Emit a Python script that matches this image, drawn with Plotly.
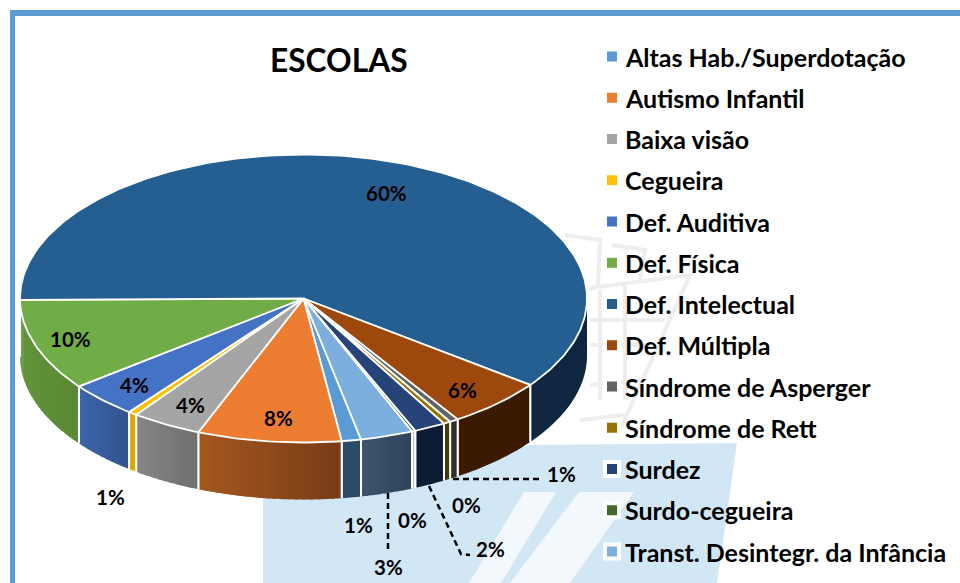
import numpy as np
import plotly.graph_objects as go

# ---- data (share of the circle, %) ----
categories = ["Altas Hab./Superdotação", "Autismo Infantil", "Baixa visão", "Cegueira",
              "Def. Auditiva", "Def. Física", "Def. Intelectual", "Def. Múltipla",
              "Síndrome de Asperger", "Síndrome de Rett", "Surdez", "Surdo-cegueira",
              "Transt. Desintegr. da Infância"]
values = [1.1, 8.2, 4.0, 0.5, 4.0, 10.3, 60.4, 5.6, 0.5, 0.4, 1.8, 0.2, 3.0]
printed_labels = ["1%", "8%", "4%", "1%", "4%", "10%", "60%", "6%", "1%", "0%", "2%", "0%", "3%"]

# ---- styles ----
top_colors = ["#5b9bd5", "#ed7d31", "#a5a5a5", "#ffc000", "#4472c4", "#70ad47", "#255e91",
              "#9e480e", "#636363", "#997300", "#264478", "#43682b", "#7cafdd"]
wall_right = ["#2a4a68", "#793c17", "#707070", "#dca800", "#33558f", "#5b8a36", "#0e2640",
              "#3c1a02", "#2e2e2e", "#4a3800", "#0d1c35", "#c8c8c8", "#2f445a"]
wall_left = ["#2a4a68", "#a55820", "#878787", "#dca800", "#3e66ad", "#65983c", "#0e2640",
             "#3c1a02", "#2e2e2e", "#4a3800", "#0d1c35", "#c8c8c8", "#3d5570"]
label_xy = [(358, 525), (278, 418), (190, 405), (110, 497), (134, 385), (70, 339), (386, 193),
            (462, 390), (561, 474), (466, 505), (490, 549), (412, 520), (388, 567)]
CX, CY, RX, RY, DEPTH, START = 303.5, 298.5, 283.5, 144.0, 57.0, 78.3
FONT = "Lato"


def hex2rgb(h):
    return np.array([int(h[i:i + 2], 16) for i in (1, 3, 5)], float)


def ell(deg, dy=0.0):
    a = np.radians(deg)
    return CX + RX * np.cos(a), CY + RY * np.sin(a) + dy


fig = go.Figure()
shares = np.array(values) / sum(values) * 360.0
ends = START + np.cumsum(shares)
starts = ends - shares

# side walls (only the front half of the cylinder is visible)
for s, e, cr, cl in zip(starts, ends, wall_right, wall_left):
    for lo, hi in ((s, e), (s - 360, e - 360)):
        a, b = max(lo, 0.0), min(hi, 180.0)
        if b <= a:
            continue
        n = 1 if cr == cl else max(1, int(np.ceil((b - a) / 1.5)))
        edges = np.linspace(a, b, n + 1)
        for i in range(n):
            t = ((edges[i] + edges[i + 1]) / 2 - lo) / (hi - lo)
            c = (1 - t) * hex2rgb(cr) + t * hex2rgb(cl)
            col = "rgb(%d,%d,%d)" % tuple(c)
            # strips overlap the next one so no seam shows
            arc = np.linspace(edges[i], min(edges[i + 1] + 0.6, b), max(3, int(edges[i + 1] - edges[i]) + 3))
            x1, y1 = ell(arc)
            x2, y2 = ell(arc[::-1], DEPTH)
            fig.add_trace(go.Scatter(x=np.r_[x1, x2], y=np.r_[y1, y2], fill="toself",
                                     fillcolor=col, mode="none",
                                     hoverinfo="skip", showlegend=False))
        # white separators at wedge ends
        for d in (a, b):
            if 0 < d < 180:
                px, py = ell(d)
                fig.add_trace(go.Scatter(x=[px, px], y=[py, py + DEPTH], mode="lines",
                                         line=dict(color="white", width=2),
                                         hoverinfo="skip", showlegend=False))

# top faces
for s, e, col, name in zip(starts, ends, top_colors, categories):
    arc = np.linspace(s, e, max(3, int(e - s) + 2))
    x, y = ell(arc)
    fig.add_trace(go.Scatter(x=np.r_[CX, x, CX], y=np.r_[CY, y, CY], fill="toself", fillcolor=col,
                             mode="lines", line=dict(color="white", width=1.8),
                             name=name, hoverinfo="name", showlegend=False))

# legend rows: swatch plus real text
for i, (col, name) in enumerate(zip(top_colors, categories)):
    row_y = 56.5 + 41.25 * i
    fig.add_trace(go.Scatter(x=[612], y=[row_y], mode="markers", name=name, hoverinfo="name",
                             showlegend=False,
                             marker=dict(symbol="square", size=14, color=col,
                                         line=dict(color="white", width=4))))
    fig.add_annotation(x=623, y=row_y, xanchor="left", text="<b>%s</b>" % name, showarrow=False,
                       font=dict(family=FONT, size=25, color="black"))

# dashed leader lines
for lx, ly in ([453, 543], [479, 479]), ([388, 388], [493, 549]), ([429, 461, 470], [486, 554, 555]):
    fig.add_trace(go.Scatter(x=lx, y=ly, mode="lines", line=dict(color="black", width=2.5, dash="6px,4px"),
                             hoverinfo="skip", showlegend=False))

# value labels
for (lx, ly), t in zip(label_xy, printed_labels):
    fig.add_annotation(x=lx, y=ly, text="<b>%s</b>" % t, showarrow=False,
                       font=dict(family=FONT, size=20.5, color="black"))
fig.add_annotation(x=338.5, y=60, text="<b>ESCOLAS</b>", showarrow=False,
                   font=dict(family=FONT, size=31.7, color="black"))

# background: frame and faint watermark
shapes = [
    dict(type="path", path="M263,583 L263,497 L345,497 L530,445 L737,443 L717,583 Z",
         fillcolor="#d2e7f6", line_width=0, layer="below"),
    dict(type="path", path="M524,492 L556,492 L501,583 L469,583 Z", fillcolor="#f2f8fc", line_width=0, layer="below"),
    dict(type="path", path="M579,492 L634,492 L570,583 L510,583 Z", fillcolor="#f2f8fc", line_width=0, layer="below"),
]
for p in ["M565,235 L600,240 L598,285 L590,290", "M590,288 L690,275 L620,430",
          "M612,245 L645,250 L640,280", "M590,320 L665,320", "M590,345 L650,345",
          "M600,290 L600,400", "M625,285 L625,400", "M580,420 L625,415", "M590,385 L640,380"]:
    shapes.append(dict(type="path", path=p, line=dict(color="#eeeeee", width=4), layer="below"))
shapes += [
    dict(type="rect", x0=10, x1=960, y0=10, y1=16, fillcolor="#5b9bd5", line_width=0, layer="below"),
    dict(type="rect", x0=10, x1=15, y0=10, y1=583, fillcolor="#5b9bd5", line_width=0, layer="below"),
]

fig.update_layout(
    width=960, height=583, autosize=False,
    margin=dict(l=0, r=0, t=0, b=0),
    paper_bgcolor="white", plot_bgcolor="rgba(0,0,0,0)",
    xaxis=dict(range=[0, 960], visible=False, fixedrange=True),
    yaxis=dict(range=[583, 0], visible=False, fixedrange=True),
    shapes=shapes,
    showlegend=False,
)
fig.write_html("out.html", config=dict(displayModeBar=False),
               post_script="document.body.style.margin='0';document.body.style.overflow='hidden';")
